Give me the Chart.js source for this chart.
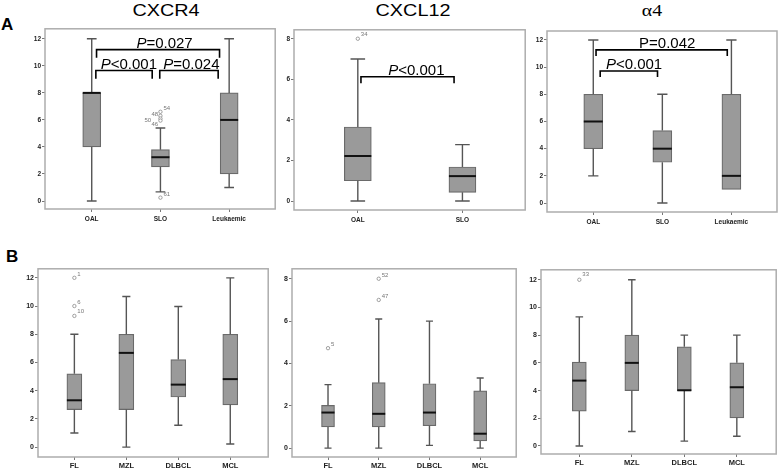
<!DOCTYPE html>
<html>
<head>
<meta charset="utf-8">
<script src="https://cdn.jsdelivr.net/npm/chart.js@4.4.1/dist/chart.umd.min.js"></script>
<style>
	body { margin: 0; width: 778px; height: 468px; overflow: hidden; position: relative; background: #fff; font-family: "Liberation Sans", Arial, sans-serif; }
	.title { position: absolute; width: 200px; text-align: center; font-size: 16.5px; line-height: 1; transform: scaleX(1.2); color: #000; }
	.letter { position: absolute; font-weight: bold; font-size: 17px; line-height: 1; color: #000; }
	canvas { position: absolute; }
</style>
</head>
<body>
<div class="letter" style="left:1px;top:16px">A</div>
<div class="letter" style="left:6px;top:248px">B</div>
<div class="title" style="left:66px;top:2px">CXCR4</div>
<div class="title" style="left:313px;top:2px">CXCL12</div>
<div class="title" style="left:552px;top:3px;font-family:'Liberation Serif','Times New Roman',serif">α4</div>
<script>
/* Panel A: CXCR4 */
var cxcr4Labels = ['OAL', 'SLO', 'Leukaemic'];
var cxcr4Min = [0, 0.68, 1];
var cxcr4Q1 = [4, 2.53, 2];
var cxcr4Median = [8, 3.24, 6];
var cxcr4Q3 = [8, 3.8, 8];
var cxcr4Max = [12, 5.4, 12];
var cxcr4OutX = [1, 1, 1, 1, 1];
var cxcr4OutY = [6.6, 6.3, 6.1, 5.95, 0.25];
var cxcr4OutIds = ['54', '48', '50', '46', '61'];
var cxcr4Pvalues = ['P=0.027', 'P<0.001', 'P=0.024'];

/* Panel A: CXCL12 */
var cxcl12Labels = ['OAL', 'SLO'];
var cxcl12Min = [0, 0];
var cxcl12Q1 = [1.0, 0.43];
var cxcl12Median = [2.22, 1.23];
var cxcl12Q3 = [3.65, 1.68];
var cxcl12Max = [7.0, 2.78];
var cxcl12OutX = [0];
var cxcl12OutY = [8.0];
var cxcl12OutIds = ['34'];
var cxcl12Pvalues = ['P<0.001'];

/* Panel A: alpha4 */
var a4Labels = ['OAL', 'SLO', 'Leukaemic'];
var a4Min = [2, 0, 1];
var a4Q1 = [4, 3, 1];
var a4Median = [6, 4, 2];
var a4Q3 = [8, 5.33, 8];
var a4Max = [12, 8, 12];
var a4OutX = [];
var a4OutY = [];
var a4OutIds = [];
var a4Pvalues = ['P=0.042', 'P<0.001'];

/* Panel B: CXCR4 by lymphoma */
var lymphLabels = ['FL', 'MZL', 'DLBCL', 'MCL'];
var bCxcr4Min = [1.0, 0, 1.55, 0.22];
var bCxcr4Q1 = [2.66, 2.66, 3.55, 3.0];
var bCxcr4Median = [3.32, 6.68, 4.43, 4.82];
var bCxcr4Q3 = [5.2, 8, 6.21, 8];
var bCxcr4Max = [8, 10.68, 9.97, 12];
var bCxcr4OutX = [0, 0, 0];
var bCxcr4OutY = [12, 10.0, 9.3];
var bCxcr4OutIds = ['1', '6', '10'];

/* Panel B: CXCL12 by lymphoma */
var bCxcl12Min = [0, 0, 0.13, 0];
var bCxcl12Q1 = [1.0, 1.0, 1.06, 0.34];
var bCxcl12Median = [1.68, 1.62, 1.68, 0.68];
var bCxcl12Q3 = [2.02, 3.09, 3.04, 2.7];
var bCxcl12Max = [3.0, 6.1, 6.0, 3.31];
var bCxcl12OutX = [0, 1, 1];
var bCxcl12OutY = [4.72, 8.0, 7.0];
var bCxcl12OutIds = ['5', '52', '47'];

/* Panel B: alpha4 by lymphoma */
var bA4Min = [0, 1.05, 0.35, 0.7];
var bA4Q1 = [2.52, 4, 4, 2.03];
var bA4Median = [4.72, 6, 4.02, 4.24];
var bA4Q3 = [6.06, 8, 7.16, 6.0];
var bA4Max = [9.32, 12, 8, 8];
var bA4OutX = [0];
var bA4OutY = [12];
var bA4OutIds = ['33'];

function boxPanel(cfg) {
	var f = cfg.frame;
	var padL = 34, padT = 4, padR = 4, padB = 22;
	var canvas = document.createElement('canvas');
	canvas.width = f[2] - f[0] + padL + padR;
	canvas.height = f[3] - f[1] + padT + padB;
	canvas.style.left = (f[0] - padL) + 'px';
	canvas.style.top = (f[1] - padT) + 'px';
	document.body.appendChild(canvas);

	var boxes = [];
	for (var i = 0; i < cfg.labels.length; i++) {
		boxes.push({ x: i, y: [cfg.q1[i], cfg.q3[i]] });
	}
	var outliers = [];
	for (var j = 0; j < cfg.outX.length; j++) {
		outliers.push({ x: cfg.outX[j], y: cfg.outY[j] });
	}

	var extras = {
		id: 'boxExtras',
		afterDatasetsDraw: function (chart) {
			var ctx = chart.ctx;
			var xs = chart.scales.x, ys = chart.scales.y;
			var half = cfg.boxWidth / 2, cap = cfg.boxWidth * 0.27;
			ctx.save();
			for (var i = 0; i < cfg.labels.length; i++) {
				var x = xs.getPixelForValue(i);
				/* whiskers */
				ctx.strokeStyle = '#555';
				ctx.lineWidth = 1.4;
				ctx.beginPath();
				if (cfg.max[i] > cfg.q3[i]) {
					ctx.moveTo(x, ys.getPixelForValue(cfg.q3[i]));
					ctx.lineTo(x, ys.getPixelForValue(cfg.max[i]));
					ctx.moveTo(x - cap, ys.getPixelForValue(cfg.max[i]));
					ctx.lineTo(x + cap, ys.getPixelForValue(cfg.max[i]));
				}
				if (cfg.min[i] < cfg.q1[i]) {
					ctx.moveTo(x, ys.getPixelForValue(cfg.q1[i]));
					ctx.lineTo(x, ys.getPixelForValue(cfg.min[i]));
					ctx.moveTo(x - cap, ys.getPixelForValue(cfg.min[i]));
					ctx.lineTo(x + cap, ys.getPixelForValue(cfg.min[i]));
				}
				ctx.stroke();
				/* median */
				ctx.strokeStyle = '#111';
				ctx.lineWidth = 2;
				ctx.beginPath();
				ctx.moveTo(x - half, ys.getPixelForValue(cfg.median[i]));
				ctx.lineTo(x + half, ys.getPixelForValue(cfg.median[i]));
				ctx.stroke();
			}
			/* outlier case numbers */
			ctx.fillStyle = '#777';
			ctx.font = '6px "Liberation Sans", Arial, sans-serif';
			ctx.textBaseline = 'alphabetic';
			for (var k = 0; k < cfg.outIds.length; k++) {
				var off = cfg.idOffsets[k] || [3, -2];
				ctx.fillText(cfg.outIds[k], xs.getPixelForValue(cfg.outX[k]) + off[0], ys.getPixelForValue(cfg.outY[k]) + off[1]);
			}
			/* significance brackets */
			(cfg.brackets || []).forEach(function (b) {
				var x1 = xs.getPixelForValue(b.from), x2 = xs.getPixelForValue(b.to);
				var yTop = ys.getPixelForValue(b.y), yLeg = ys.getPixelForValue(b.y - b.drop);
				ctx.strokeStyle = '#000';
				ctx.lineWidth = 1.6;
				ctx.beginPath();
				ctx.moveTo(x1, yLeg);
				ctx.lineTo(x1, yTop);
				ctx.lineTo(x2, yTop);
				ctx.lineTo(x2, yLeg);
				ctx.stroke();
				var first = b.text.charAt(0), rest = b.text.substring(1);
				var fontP = (b.italic ? 'italic ' : '') + '15px "Liberation Sans", Arial, sans-serif';
				var fontR = '15px "Liberation Sans", Arial, sans-serif';
				ctx.font = fontP;
				var wP = ctx.measureText(first).width;
				ctx.font = fontR;
				var wR = ctx.measureText(rest).width;
				var cx = xs.getPixelForValue(b.textAt);
				var sx = cx - (wP + wR) / 2;
				ctx.fillStyle = '#000';
				ctx.font = fontP;
				ctx.fillText(first, sx, yTop - 2);
				ctx.font = fontR;
				ctx.fillText(rest, sx + wP, yTop - 2);
			});
			ctx.restore();
		},
		afterDraw: function (chart) {
			var a = chart.chartArea, ctx = chart.ctx;
			ctx.save();
			ctx.strokeStyle = '#adadad';
			ctx.lineWidth = 1.5;
			ctx.strokeRect(a.left, a.top, a.right - a.left, a.bottom - a.top);
			ctx.restore();
		}
	};

	new Chart(canvas.getContext('2d'), {
		type: 'bar',
		data: {
			datasets: [{
				type: 'bar',
				data: boxes,
				backgroundColor: '#9a9a9a',
				borderColor: '#6a6a6a',
				borderWidth: 1.2,
				borderSkipped: false,
				barThickness: cfg.boxWidth
			}, {
				type: 'scatter',
				data: outliers,
				pointStyle: 'circle',
				pointRadius: 1.7,
				pointBorderWidth: 0.8,
				borderColor: '#8a8a8a',
				backgroundColor: '#fff'
			}]
		},
		options: {
			responsive: false,
			animation: false,
			events: [],
			layout: { padding: { left: 0, top: padT, right: padR, bottom: 0 } },
			plugins: {
				legend: { display: false },
				tooltip: { enabled: false }
			},
			scales: {
				x: {
					type: 'linear',
					min: cfg.xRange[0],
					max: cfg.xRange[1],
					offset: false,
					afterBuildTicks: function (s) {
						s.ticks = cfg.labels.map(function (l, i) { return { value: i }; });
					},
					afterFit: function (s) {
						s.height = padB;
						s.paddingLeft = 0;
						s.paddingRight = 0;
					},
					ticks: {
						autoSkip: false,
						maxRotation: 0,
						padding: cfg.xPad,
						color: '#222',
						font: { size: cfg.xFont, weight: 'bold', family: '"Liberation Sans", Arial, sans-serif' },
						callback: function (v) { return cfg.labels[v]; }
					},
					grid: { offset: false, drawOnChartArea: false, drawTicks: true, tickLength: 3, color: '#777' },
					border: { display: false }
				},
				y: {
					type: 'linear',
					min: cfg.yRange[0],
					max: cfg.yRange[1],
					afterBuildTicks: function (s) {
						s.ticks = cfg.yTicks.map(function (v) { return { value: v }; });
					},
					afterFit: function (s) {
						s.width = padL;
						s.paddingTop = 0;
						s.paddingBottom = 0;
					},
					ticks: {
						padding: 1,
						color: '#222',
						font: { size: cfg.yFont, weight: 'bold', family: '"Liberation Sans", Arial, sans-serif' },
						callback: function (v) { return String(v); }
					},
					grid: { drawOnChartArea: false, drawTicks: true, tickLength: 3, color: '#777' },
					border: { display: false }
				}
			}
		},
		plugins: [extras]
	});
}

/* A: CXCR4 */
boxPanel({
	frame: [45, 28, 276, 209], xRange: [-0.68, 2.67], yRange: [-0.59, 12.74],
	yTicks: [0, 2, 4, 6, 8, 10, 12], labels: cxcr4Labels,
	min: cxcr4Min, q1: cxcr4Q1, median: cxcr4Median, q3: cxcr4Q3, max: cxcr4Max,
	outX: cxcr4OutX, outY: cxcr4OutY, outIds: cxcr4OutIds,
	idOffsets: [[3, -2], [-9, 0], [-16, 3], [-9, 5], [3, -2]],
	boxWidth: 18, xFont: 6.5, yFont: 6.5, xPad: 3,
	brackets: [
		{ from: 0.07, to: 1.86, y: 11.2, drop: 0.6, text: cxcr4Pvalues[0], italic: true, textAt: 1.06 },
		{ from: 0.06, to: 0.88, y: 9.65, drop: 0.6, text: cxcr4Pvalues[1], italic: true, textAt: 0.54 },
		{ from: 0.99, to: 1.84, y: 9.65, drop: 0.6, text: cxcr4Pvalues[2], italic: true, textAt: 1.45 }
	]
});

/* A: CXCL12 */
boxPanel({
	frame: [294, 29, 526, 210], xRange: [-0.61, 1.6], yRange: [-0.44, 8.44],
	yTicks: [0, 2, 4, 6, 8], labels: cxcl12Labels,
	min: cxcl12Min, q1: cxcl12Q1, median: cxcl12Median, q3: cxcl12Q3, max: cxcl12Max,
	outX: cxcl12OutX, outY: cxcl12OutY, outIds: cxcl12OutIds,
	idOffsets: [[3, -3]],
	boxWidth: 27, xFont: 6.5, yFont: 6.5, xPad: 3,
	brackets: [
		{ from: 0.03, to: 0.92, y: 6.13, drop: 0.33, text: cxcl12Pvalues[0], italic: true, textAt: 0.56 }
	]
});

/* A: alpha4 */
boxPanel({
	frame: [547, 31, 777, 212], xRange: [-0.67, 2.66], yRange: [-0.66, 12.66],
	yTicks: [0, 2, 4, 6, 8, 10, 12], labels: a4Labels,
	min: a4Min, q1: a4Q1, median: a4Median, q3: a4Q3, max: a4Max,
	outX: a4OutX, outY: a4OutY, outIds: a4OutIds, idOffsets: [],
	boxWidth: 19, xFont: 6.5, yFont: 6.5, xPad: 3,
	brackets: [
		{ from: 0.04, to: 1.94, y: 11.27, drop: 0.45, text: a4Pvalues[0], italic: false, textAt: 1.07 },
		{ from: 0.1, to: 0.93, y: 9.72, drop: 0.45, text: a4Pvalues[1], italic: true, textAt: 0.59 }
	]
});

/* B: CXCR4 */
boxPanel({
	frame: [38, 268, 269, 457], xRange: [-0.7, 3.73], yRange: [-0.7, 12.64],
	yTicks: [0, 2, 4, 6, 8, 10, 12], labels: lymphLabels,
	min: bCxcr4Min, q1: bCxcr4Q1, median: bCxcr4Median, q3: bCxcr4Q3, max: bCxcr4Max,
	outX: bCxcr4OutX, outY: bCxcr4OutY, outIds: bCxcr4OutIds,
	idOffsets: [[3, -2], [3, -2], [3, -3]],
	boxWidth: 15, xFont: 7.5, yFont: 7, xPad: 1
});

/* B: CXCL12 */
boxPanel({
	frame: [292, 268, 517, 457], xRange: [-0.71, 3.71], yRange: [-0.42, 8.47],
	yTicks: [0, 2, 4, 6, 8], labels: lymphLabels,
	min: bCxcl12Min, q1: bCxcl12Q1, median: bCxcl12Median, q3: bCxcl12Q3, max: bCxcl12Max,
	outX: bCxcl12OutX, outY: bCxcl12OutY, outIds: bCxcl12OutIds,
	idOffsets: [[3, -2], [3, -2], [3, -2]],
	boxWidth: 13, xFont: 7.5, yFont: 7, xPad: 1
});

/* B: alpha4 */
boxPanel({
	frame: [541, 269, 777, 454], xRange: [-0.73, 3.75], yRange: [-0.58, 12.72],
	yTicks: [0, 2, 4, 6, 8, 10, 12], labels: lymphLabels,
	min: bA4Min, q1: bA4Q1, median: bA4Median, q3: bA4Q3, max: bA4Max,
	outX: bA4OutX, outY: bA4OutY, outIds: bA4OutIds,
	idOffsets: [[3, -4]],
	boxWidth: 14, xFont: 7.5, yFont: 7, xPad: 1
});
</script>
</body>
</html>
